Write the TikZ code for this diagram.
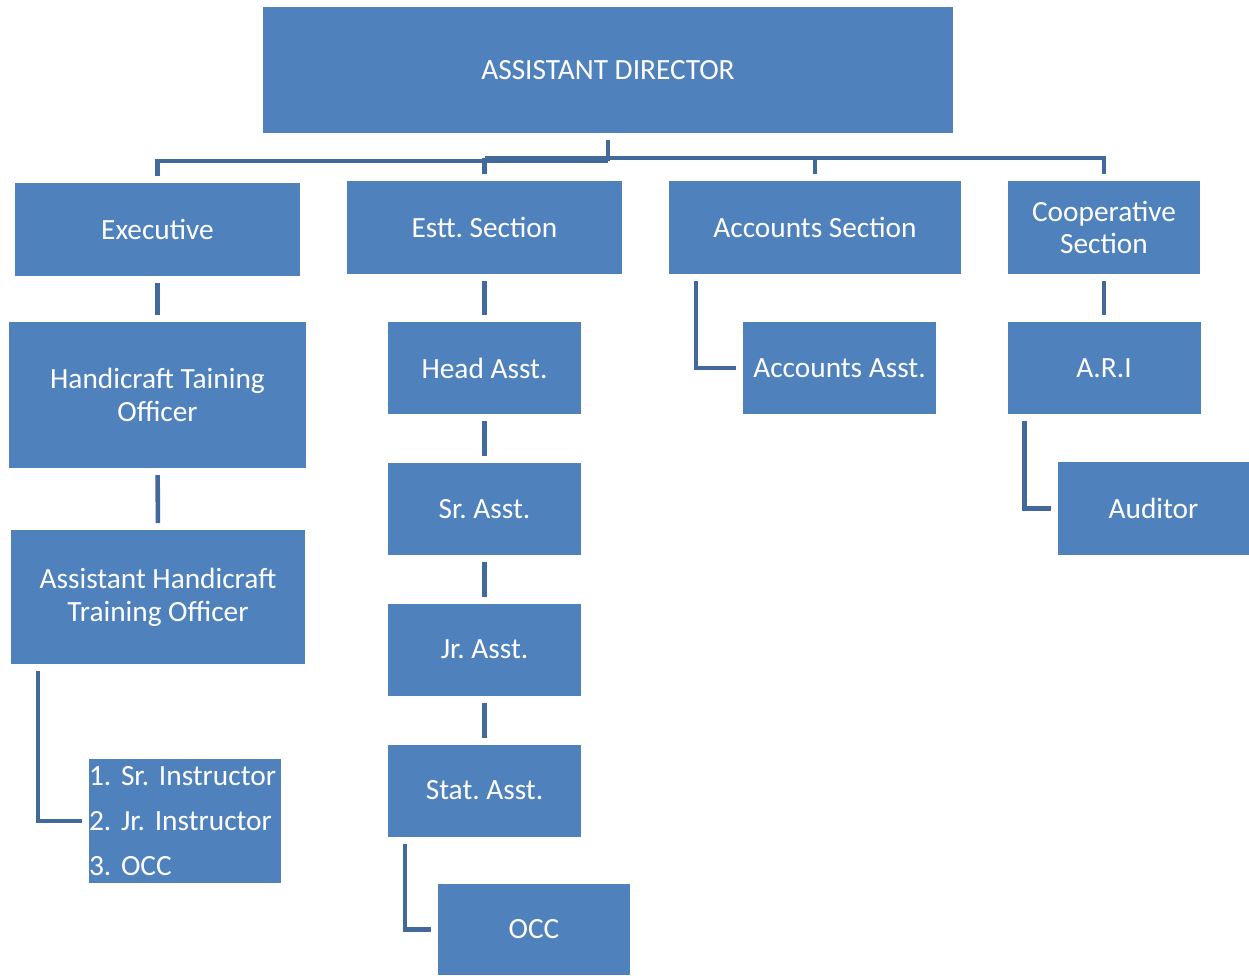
\documentclass[tikz,border=0pt]{standalone}
\usepackage{fontspec}
\setmainfont{Carlito}
\frenchspacing
\usetikzlibrary{calc}
\definecolor{boxblue}{HTML}{4F81BD}
\definecolor{lineblue}{HTML}{41699C}
\tikzset{
  unit/.style={fill=boxblue,draw=none,inner sep=0pt,outer sep=0pt,text=white,align=center,font=\fontsize{22}{24.5}\selectfont},
  conn/.style={draw=lineblue,line width=3.4pt,shorten <=5.25pt,shorten >=5.25pt}
}
\begin{document}
\begin{tikzpicture}[x=0.75pt,y=-0.75pt]
\useasboundingbox (0,0) rectangle (1249,975);
\node[unit,minimum width=517.5pt,minimum height=94.5pt] (ad) at (608,70) {ASSISTANT DIRECTOR};
\node[unit,minimum width=213.75pt,minimum height=69.75pt] (exec) at (157.5,229.5) {Executive};
\node[unit,minimum width=206.25pt,minimum height=69.75pt] (estt) at (484.5,227.5) {Estt. Section};
\node[unit,minimum width=219pt,minimum height=69.75pt] (acc) at (815,227.5) {Accounts Section};
\node[unit,minimum width=144pt,minimum height=69.75pt] (coop) at (1104,227.5) {Cooperative\\Section};
\node[unit,minimum width=222.75pt,minimum height=109.5pt] (hto) at (157.5,395) {Handicraft Taining\\Officer};
\node[unit,minimum width=220.5pt,minimum height=100.5pt] (ahto) at (158,597) {Assistant Handicraft\\Training Officer};
\node[unit,minimum width=144pt,minimum height=93pt,text width=144pt,align=left,font=\fontsize{22}{33.75}\selectfont] (inst) at (185,821) {1. Sr. Instructor\\2. Jr. Instructor\\3. OCC};
\node[unit,minimum width=144.75pt,minimum height=69pt] (head) at (484.5,368) {Head Asst.};
\node[unit,minimum width=144.75pt,minimum height=69pt] (sr) at (484.5,509) {Sr. Asst.};
\node[unit,minimum width=144.75pt,minimum height=69pt] (jr) at (484.5,649.5) {Jr. Asst.};
\node[unit,minimum width=144.75pt,minimum height=69pt] (stat) at (484.5,790.5) {Stat. Asst.};
\node[unit,minimum width=144pt,minimum height=68.25pt] (occ) at (534,929.5) {OCC};
\node[unit,minimum width=144.75pt,minimum height=69pt] (aacc) at (839.5,368) {Accounts Asst.};
\node[unit,minimum width=144.75pt,minimum height=69pt] (ari) at (1104,368) {A.R.I};
\node[unit,minimum width=143.25pt,minimum height=69.75pt] (aud) at (1153.5,508.5) {Auditor};
\coordinate (top) at (608,161);
\draw[conn,shorten >=0pt] (ad.south) -- (top);
\draw[conn,shorten <=0pt] (top) -| (exec.north);
\draw[conn,shorten <=0pt] ($(estt.north)+(0,-23)$) -| (coop.north);
\draw[conn,shorten <=0pt] ($(estt.north)+(0,-23)$) -- (estt.north);
\draw[conn,shorten <=0pt] ($(acc.north)+(0,-23)$) -- (acc.north);
\draw[conn] (exec) -- (hto);
\draw[conn] (hto) -- (ahto);
\draw[conn] ($(ahto.south west)+(27,0)$) |- (inst.west);
\draw[conn] (estt) -- (head);
\draw[conn] (head) -- (sr);
\draw[conn] (sr) -- (jr);
\draw[conn] (jr) -- (stat);
\draw[conn] ($(stat.south west)+(17,0)$) |- (occ.west);
\draw[conn] ($(acc.south west)+(27,0)$) |- (aacc.west);
\draw[conn] (coop) -- (ari);
\draw[conn] ($(ari.south west)+(17,0)$) |- (aud.west);
\end{tikzpicture}
\end{document}
